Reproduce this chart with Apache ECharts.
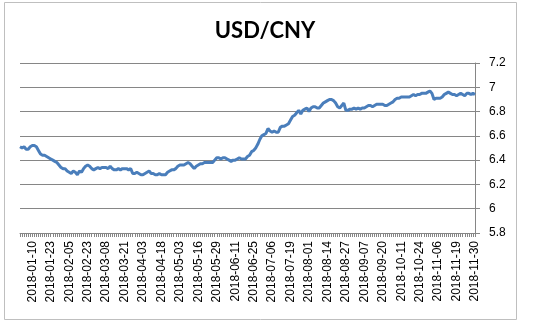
<!DOCTYPE html>
<html>
<head>
<meta charset="utf-8">
<script src="https://cdn.jsdelivr.net/npm/echarts@6/dist/echarts.min.js"></script>
<style>
html,body{margin:0;padding:0;background:#fff;}
#chart{width:541px;height:325px;}
</style>
</head>
<body>
<div id="chart"></div>
<script>
var dates = [
"2018-01-02","2018-01-03","2018-01-04","2018-01-05","2018-01-08","2018-01-09","2018-01-10","2018-01-11","2018-01-12",
"2018-01-15","2018-01-16","2018-01-17","2018-01-18","2018-01-19","2018-01-22","2018-01-23","2018-01-24","2018-01-25","2018-01-26",
"2018-01-29","2018-01-30","2018-01-31","2018-02-01","2018-02-02","2018-02-05","2018-02-06","2018-02-07","2018-02-08","2018-02-09",
"2018-02-12","2018-02-13","2018-02-14","2018-02-22","2018-02-23","2018-02-26","2018-02-27","2018-02-28","2018-03-01","2018-03-02",
"2018-03-05","2018-03-06","2018-03-07","2018-03-08","2018-03-09","2018-03-12","2018-03-13","2018-03-14","2018-03-15","2018-03-16",
"2018-03-19","2018-03-20","2018-03-21","2018-03-22","2018-03-23","2018-03-26","2018-03-27","2018-03-28","2018-03-29","2018-03-30",
"2018-04-02","2018-04-03","2018-04-04","2018-04-09","2018-04-10","2018-04-11","2018-04-12","2018-04-13","2018-04-16","2018-04-17",
"2018-04-18","2018-04-19","2018-04-20","2018-04-23","2018-04-24","2018-04-25","2018-04-26","2018-04-27","2018-05-02","2018-05-03",
"2018-05-04","2018-05-07","2018-05-08","2018-05-09","2018-05-10","2018-05-11","2018-05-14","2018-05-15","2018-05-16","2018-05-17",
"2018-05-18","2018-05-21","2018-05-22","2018-05-23","2018-05-24","2018-05-25","2018-05-28","2018-05-29","2018-05-30","2018-05-31",
"2018-06-01","2018-06-04","2018-06-05","2018-06-06","2018-06-07","2018-06-08","2018-06-11","2018-06-12","2018-06-13","2018-06-14",
"2018-06-15","2018-06-19","2018-06-20","2018-06-21","2018-06-22","2018-06-25","2018-06-26","2018-06-27","2018-06-28","2018-06-29",
"2018-07-02","2018-07-03","2018-07-04","2018-07-05","2018-07-06","2018-07-09","2018-07-10","2018-07-11","2018-07-12","2018-07-13",
"2018-07-16","2018-07-17","2018-07-18","2018-07-19","2018-07-20","2018-07-23","2018-07-24","2018-07-25","2018-07-26","2018-07-27",
"2018-07-30","2018-07-31","2018-08-01","2018-08-02","2018-08-03","2018-08-06","2018-08-07","2018-08-08","2018-08-09","2018-08-10",
"2018-08-13","2018-08-14","2018-08-15","2018-08-16","2018-08-17","2018-08-20","2018-08-21","2018-08-22","2018-08-23","2018-08-24",
"2018-08-27","2018-08-28","2018-08-29","2018-08-30","2018-08-31","2018-09-03","2018-09-04","2018-09-05","2018-09-06","2018-09-07",
"2018-09-10","2018-09-11","2018-09-12","2018-09-13","2018-09-14","2018-09-17","2018-09-18","2018-09-19","2018-09-20","2018-09-21",
"2018-09-25","2018-09-26","2018-09-27","2018-09-28","2018-10-08","2018-10-09","2018-10-10","2018-10-11","2018-10-12","2018-10-15",
"2018-10-16","2018-10-17","2018-10-18","2018-10-19","2018-10-22","2018-10-23","2018-10-24","2018-10-25","2018-10-26","2018-10-29",
"2018-10-30","2018-10-31","2018-11-01","2018-11-02","2018-11-05","2018-11-06","2018-11-07","2018-11-08","2018-11-09","2018-11-12",
"2018-11-13","2018-11-14","2018-11-15","2018-11-16","2018-11-19","2018-11-20","2018-11-21","2018-11-22","2018-11-23","2018-11-26",
"2018-11-27","2018-11-28","2018-11-29","2018-11-30"
];

var usdcny = [
6.51,6.50,6.51,6.49,6.49,6.51,6.52,6.52,6.51,
6.48,6.45,6.44,6.44,6.43,6.42,6.41,6.40,6.39,6.38,
6.36,6.34,6.33,6.33,6.31,6.30,6.29,6.31,6.30,6.28,
6.31,6.30,6.33,6.35,6.36,6.35,6.33,6.32,6.33,6.34,
6.33,6.34,6.34,6.34,6.33,6.35,6.33,6.32,6.32,6.33,
6.32,6.33,6.33,6.33,6.32,6.33,6.29,6.29,6.30,6.29,
6.28,6.28,6.29,6.30,6.31,6.29,6.29,6.28,6.28,6.29,
6.28,6.28,6.28,6.30,6.31,6.32,6.32,6.33,6.35,6.36,
6.36,6.36,6.37,6.38,6.37,6.35,6.33,6.35,6.36,6.37,
6.37,6.38,6.38,6.38,6.38,6.38,6.40,6.42,6.42,6.41,
6.42,6.42,6.41,6.40,6.39,6.40,6.40,6.41,6.42,6.41,
6.41,6.41,6.43,6.44,6.47,6.48,6.50,6.53,6.57,6.60,
6.61,6.62,6.66,6.64,6.63,6.64,6.63,6.63,6.67,6.68,
6.68,6.69,6.70,6.73,6.76,6.77,6.79,6.81,6.78,6.81,
6.82,6.83,6.80,6.83,6.84,6.84,6.83,6.83,6.85,6.87,
6.88,6.89,6.90,6.90,6.89,6.87,6.84,6.83,6.85,6.87,
6.81,6.81,6.82,6.82,6.83,6.82,6.83,6.82,6.83,6.83,
6.84,6.85,6.85,6.84,6.85,6.86,6.86,6.86,6.86,6.85,
6.85,6.86,6.87,6.88,6.90,6.91,6.91,6.92,6.92,6.92,
6.92,6.92,6.93,6.94,6.93,6.94,6.94,6.95,6.95,6.95,
6.96,6.97,6.95,6.90,6.91,6.91,6.91,6.92,6.94,6.95,
6.96,6.95,6.94,6.94,6.93,6.94,6.95,6.94,6.93,6.95,
6.95,6.94,6.95,6.94
];

var yMin = 5.8, yMax = 7.2, yStep = 0.2;
var firstLabel = 6, labelEvery = 9;

var chart = echarts.init(document.getElementById('chart'), null, {renderer: 'canvas'});
chart.setOption({
  animation: false,
  backgroundColor: '#ffffff',
  title: {
    text: 'USD/CNY',
    left: 260,
    top: 15,
    textAlign: 'center',
    textStyle: {fontFamily: 'Lato', fontWeight: 'bold', fontSize: 22, color: '#000'}
  },
  graphic: [{
    type: 'rect',
    shape: {x: 4.5, y: 2.5, width: 512, height: 317},
    style: {fill: 'none', stroke: '#bfbfbf', lineWidth: 1},
    silent: true
  }],
  grid: {left: 20, right: 66, top: 63, bottom: 92, containLabel: false},
  xAxis: {
    type: 'category',
    data: dates,
    boundaryGap: false,
    axisLine: {show: true, lineStyle: {color: '#868686', width: 1}},
    axisTick: {show: true, interval: 0, length: 4, lineStyle: {color: '#868686'}},
    axisLabel: {
      interval: function (idx) { return (idx - firstLabel) % labelEvery === 0 && idx >= firstLabel; },
      rotate: 90,
      margin: 8,
      fontFamily: 'Liberation Sans',
      fontSize: 12,
      color: '#000'
    },
    splitLine: {show: false}
  },
  yAxis: {
    type: 'value',
    position: 'right',
    min: yMin,
    max: yMax,
    interval: yStep,
    axisLine: {show: true, lineStyle: {color: '#868686', width: 1}},
    axisTick: {show: true, length: 5, lineStyle: {color: '#868686'}},
    axisLabel: {margin: 14, fontFamily: 'Liberation Sans', fontSize: 12, color: '#000'},
    splitLine: {show: true, lineStyle: {color: '#868686', width: 1}}
  },
  series: [{
    type: 'line',
    data: usdcny,
    showSymbol: false,
    symbol: 'none',
    lineStyle: {color: '#4A7EBB', width: 3},
    itemStyle: {color: '#4A7EBB'}
  }]
});
</script>
</body>
</html>
